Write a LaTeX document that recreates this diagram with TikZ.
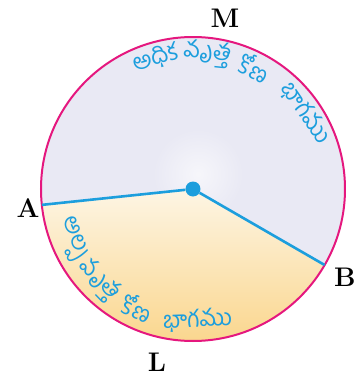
\documentclass[tikz,border=0pt]{standalone}
\usepackage{fontspec}
\newfontfamily\telugufont[Script=Telugu]{Hind Guntur}
\definecolor{rimpink}{HTML}{E5177E}
\definecolor{radblue}{HTML}{1C9EDD}
\definecolor{majfill}{HTML}{E9E9F4}
\definecolor{mintop}{HTML}{FDF5E4}
\definecolor{minbot}{HTML}{FAD58A}

\begin{document}
\begin{tikzpicture}[x=1bp, y=1bp, every node/.style={inner sep=0pt},
  ptlabel/.style={font=\fontsize{27}{27}\selectfont\bfseries},
  arcword/.style={font=\telugufont\fontsize{23.5}{23.5}\selectfont, text=radblue},
  radius line/.style={radblue, line width=2.6bp},
  centre dot/.style={circle, fill=radblue, minimum size=15bp}]
\useasboundingbox (-193,-190) rectangle (170,189);
\fill[white] (-193,-190) rectangle (170,189);
% sectors
\fill[majfill] (0,0) -- (-30:152) arc[start angle=-30, end angle=186, radius=152] -- cycle;
\begin{scope}
\clip (0,0) -- (-30:152) arc[start angle=-30, end angle=186, radius=152] -- cycle;
\shade[inner color=white!60!majfill, outer color=majfill] (5,15) circle (45);
\end{scope}
\shade[top color=mintop, bottom color=minbot] (0,0) -- (186:152) arc[start angle=186, end angle=330, radius=152] -- cycle;
\draw[rimpink, line width=2bp] (0,0) circle (152);
% centre and radii
\node[centre dot] (O) at (0,0) {};
\coordinate (A) at (186:152);
\coordinate (B) at (-30:152);
\draw[radius line] (O) -- (A);
\draw[radius line] (O) -- (B);
% labels
\node[ptlabel] (lA) at (-165,-19) {A};
\node[ptlabel] (lB) at (152,-88) {B};
\node[ptlabel] (lL) at (-36,-173) {L};
\node[ptlabel] (lM) at (32,171) {M};
% major sector words
\foreach \ang/\word [count=\i] in {106/అధిక, 84/వృత్త, 63/కోణ, 34/భాగము}
  \node[arcword, rotate=\ang-90] (maj\i) at (\ang:136) {\word};
% minor sector words
\foreach \ang/\word [count=\i] in {202.5/అల్ప, 224/వృత్త, 245/కోణ, 272/భాగము}
  \node[arcword, rotate=\ang+90] (min\i) at (\ang:131) {\word};
\end{tikzpicture}
\end{document}
